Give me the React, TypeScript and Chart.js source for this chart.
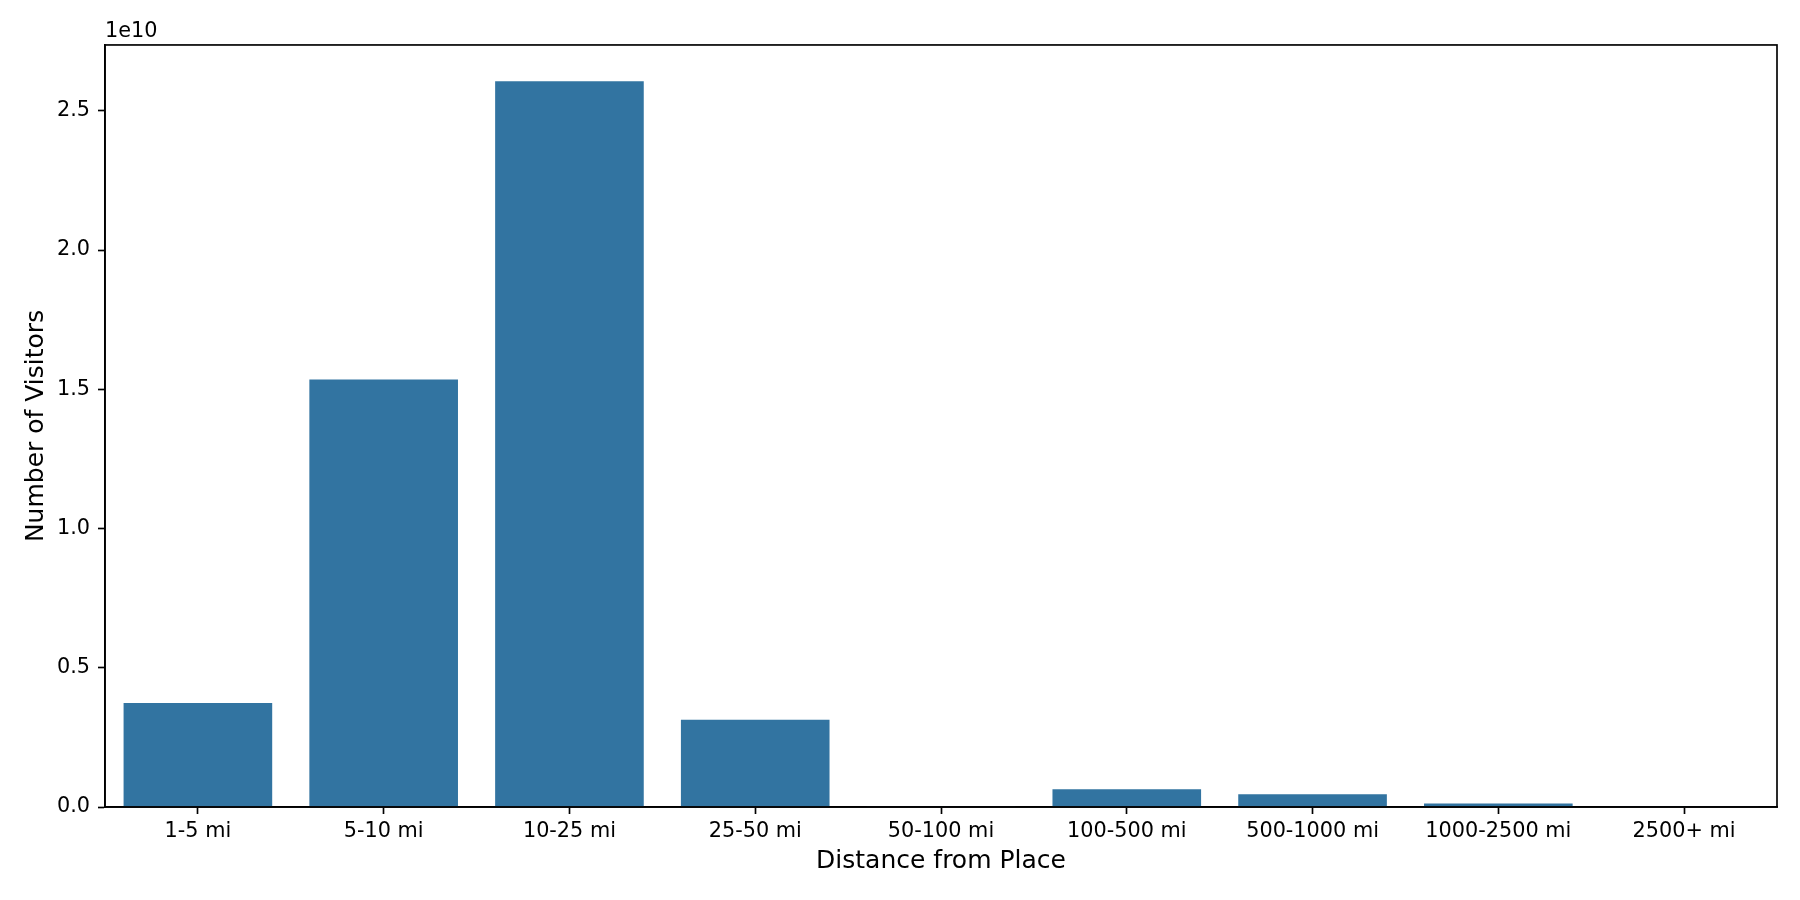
import React, { useEffect, useRef } from "react";
import { Chart, registerables } from "chart.js";

Chart.register(...registerables);

const categories = [
  "1-5 mi",
  "5-10 mi",
  "10-25 mi",
  "25-50 mi",
  "50-100 mi",
  "100-500 mi",
  "500-1000 mi",
  "1000-2500 mi",
  "2500+ mi",
];
const visitors = [3.73e9, 1.535e10, 2.606e10, 3.13e9, 1e7, 6.4e8, 4.6e8, 1.3e8, 5e6];
const yTickStep = 0.5e10;
const yScaleExponent = 10;

const FONT = "'DejaVu Sans', sans-serif";
const BAR_COLOR = "#3274a1";

const framePlugin = {
  id: "frame",
  afterDraw(chart: any) {
    const { ctx, chartArea } = chart;
    ctx.save();
    ctx.strokeStyle = "#000";
    ctx.lineWidth = 1.67;
    ctx.strokeRect(chartArea.left, chartArea.top, chartArea.right - chartArea.left, chartArea.bottom - chartArea.top);
    ctx.restore();
  },
};

export default function App() {
  const ref = useRef<HTMLCanvasElement | null>(null);

  useEffect(() => {
    if (!ref.current) return;
    const yMax = Math.max(...visitors) * 1.05;
    const chart = new Chart(ref.current, {
      type: "bar",
      data: {
        labels: categories,
        datasets: [
          {
            data: visitors,
            backgroundColor: BAR_COLOR,
            borderWidth: 0,
            categoryPercentage: 1,
            barPercentage: 0.8,
          },
        ],
      },
      plugins: [framePlugin],
      options: {
        animation: false,
        responsive: false,
        devicePixelRatio: 1,
        layout: { padding: { left: 0, top: 0, right: 23, bottom: 0 } },
        plugins: {
          legend: { display: false },
          tooltip: { enabled: false },
          title: {
            display: true,
            text: "1e" + yScaleExponent,
            align: "start",
            fullSize: false,
            color: "#000",
            font: { family: FONT, size: 20.8, weight: "normal", lineHeight: 1.2 },
            padding: { top: 19.5, bottom: 0.5 },
          },
        },
        scales: {
          x: {
            type: "category",
            offset: true,
            grid: {
              display: true,
              offset: false,
              drawOnChartArea: false,
              drawTicks: true,
              tickLength: 7,
              tickWidth: 1.67,
              tickColor: "#000",
            },
            border: { display: true, color: "#000", width: 1.67 },
            ticks: {
              color: "#000",
              font: { family: FONT, size: 20.8, lineHeight: 1.2 },
              padding: 5,
              maxRotation: 0,
              autoSkip: false,
            },
            title: {
              display: true,
              text: "Distance from Place",
              color: "#000",
              font: { family: FONT, size: 25, lineHeight: 1.2 },
              padding: { top: 0, bottom: 24 },
            },
            afterFit(scale: any) {
              scale.height = 93;
            },
          },
          y: {
            type: "linear",
            min: 0,
            max: yMax,
            grid: {
              display: true,
              drawOnChartArea: false,
              drawTicks: true,
              tickLength: 7,
              tickWidth: 1.67,
              tickColor: "#000",
            },
            border: { display: true, color: "#000", width: 1.67 },
            ticks: {
              color: "#000",
              font: { family: FONT, size: 20.8, lineHeight: 1.2 },
              padding: 8,
              callback: (v: any) => (Number(v) / Math.pow(10, yScaleExponent)).toFixed(1),
            },
            afterBuildTicks(scale: any) {
              const ticks: { value: number }[] = [];
              for (let i = 0; i * yTickStep <= scale.max + 1; i++) ticks.push({ value: i * yTickStep });
              scale.ticks = ticks;
            },
            title: {
              display: true,
              text: "Number of Visitors",
              color: "#000",
              font: { family: FONT, size: 25, lineHeight: 1.2 },
              padding: { top: 21, bottom: 0 },
            },
            afterFit(scale: any) {
              scale.width = 105;
            },
          },
        },
      } as any,
    });
    return () => chart.destroy();
  }, []);

  return (
    <div style={{ position: "fixed", left: 0, top: 0, width: 1800, height: 900, background: "#fff" }}>
      <canvas ref={ref} width={1800} height={900} style={{ width: 1800, height: 900, display: "block" }} />
    </div>
  );
}
